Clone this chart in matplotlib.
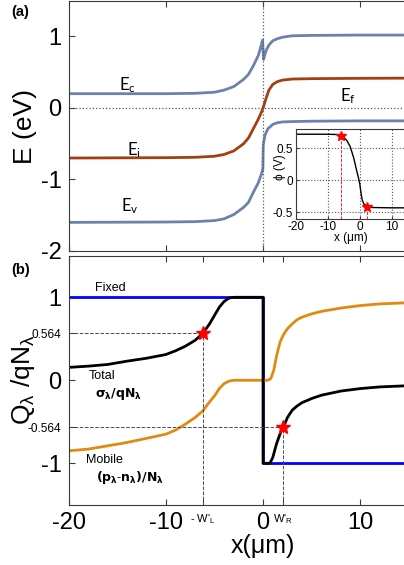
import matplotlib
matplotlib.use('Agg')
from matplotlib import pyplot as plt

plt.rcParams['font.family'] = ['Liberation Sans', 'DejaVu Sans']
plt.rcParams['mathtext.default'] = 'regular'
plt.rcParams['axes.unicode_minus'] = False

# ---- panel (a): band diagram ----
ec_x = [-20, -15, -10, -7, -5, -4, -3, -2, -1.5, -1, -0.5, -0.3, -0.05, 0.05, 0.3, 0.6, 1.0, 1.5, 2, 3, 5, 10, 20]
ec_y = [0.2, 0.2, 0.2, 0.205, 0.22, 0.25, 0.30, 0.40, 0.47, 0.59, 0.73, 0.82, 0.95, 0.68, 0.80, 0.88, 0.94, 0.97, 0.99, 1.01, 1.015, 1.02, 1.02]

ei_x = [-20, -10, -7, -5, -4, -3, -2, -1.5, -1, -0.5, -0.2, 0, 0.3, 0.6, 1.0, 1.5, 2, 3, 5, 10, 20]
ei_y = [-0.70, -0.695, -0.69, -0.675, -0.65, -0.60, -0.50, -0.42, -0.29, -0.16, -0.07, 0.0, 0.13, 0.25, 0.33, 0.37, 0.39, 0.405, 0.41, 0.415, 0.42]

ev_x = [-20, -10, -7, -5, -4, -3, -2, -1.5, -1, -0.5, -0.15, -0.02, 0.02, 0.2, 0.5, 1.0, 1.5, 2, 3, 5, 10, 20]
ev_y = [-1.60, -1.595, -1.59, -1.575, -1.55, -1.49, -1.39, -1.32, -1.18, -1.05, -0.92, -0.85, -0.52, -0.38, -0.29, -0.23, -0.205, -0.195, -0.19, -0.185, -0.18, -0.18]

# inset: potential
phi_x = [-20, -10, -7, -5.8, -5, -4, -3, -2, -1.5, -1, -0.5, 0, 0.4, 0.8, 1.3, 2.4, 4, 10, 20]
phi_y = [0.72, 0.72, 0.715, 0.70, 0.67, 0.62, 0.53, 0.37, 0.27, 0.16, 0.06, -0.05, -0.20, -0.31, -0.37, -0.41, -0.425, -0.43, -0.43]
phi_star_x = [-5.8, 2.4]
phi_star_y = [0.70, -0.41]

# ---- panel (b): charge ----
fixed_x = [-20, 0, 0, 20]
fixed_y = [1, 1, -1, -1]

total_x = [-20, -18, -16, -14, -12, -10, -9, -8, -7, -6.2, -5.5, -5, -4.5, -4, -3.5, -3, 0, 0,
           0.7, 1.0, 1.4, 1.8, 2.1, 2.5, 3, 3.5, 4, 5, 6, 8, 10, 12, 15, 20]
total_y = [0.155, 0.17, 0.19, 0.23, 0.265, 0.31, 0.355, 0.41, 0.48, 0.564, 0.68, 0.78, 0.88, 0.95, 0.99, 1.0, 1.0, -1.0,
           -1.0, -0.93, -0.76, -0.63, -0.564, -0.45, -0.36, -0.31, -0.27, -0.22, -0.18, -0.13, -0.10, -0.08, -0.065, -0.05]

mobile_x = [-20, -18, -16, -14, -12, -10, -9, -8, -7, -6.2, -5.5, -5, -4.5, -4, -3.5, -3, 0.5, 0.8,
            1.1, 1.4, 1.75, 2.1, 2.5, 3, 3.5, 4, 5, 6, 8, 10, 12, 15, 20]
mobile_y = [-0.85, -0.83, -0.79, -0.75, -0.70, -0.65, -0.60, -0.53, -0.45, -0.37, -0.26, -0.19, -0.10, -0.04, -0.01, 0, 0, 0.02,
            0.12, 0.30, 0.46, 0.55, 0.62, 0.68, 0.73, 0.76, 0.80, 0.83, 0.87, 0.90, 0.92, 0.935, 0.95]

wl, ql = -6.2, 0.564
wr, qr = 2.1, -0.564

c_band = '#6b82ad'
c_ei = '#a3400f'
c_mob = '#e08a12'
c_ax = '#3a3a3a'

fig = plt.figure(figsize=(4.04, 5.65), dpi=100)

# ---------------- (a) ----------------
ax = fig.add_axes([0.1696, 0.5558, 0.963, 0.4429])
ax.plot(ec_x, ec_y, color=c_band, lw=2.0)
ax.plot(ei_x, ei_y, color=c_ei, lw=2.0)
ax.plot(ev_x, ev_y, color=c_band, lw=2.0)
ax.axhline(0, color='0.35', ls=':', lw=0.9)
ax.axvline(0, color='0.35', ls=':', lw=0.9)
ax.set_xlim(-20, 20)
ax.set_ylim(-2, 1.5)
ax.set_xticks([-20, -10, 0, 10])
ax.set_xticklabels([])
ax.set_yticks([-2, -1, 0, 1])
ax.tick_params(direction='in', top=True, labelsize=17, length=4, pad=5, color=c_ax)
for s in ax.spines.values():
    s.set_color(c_ax)
ax.set_ylabel('E (eV)', fontsize=19)
ax.yaxis.set_label_coords(-0.081, 0.497)
ax.text(-14.8, 0.25, r'E$_c$', fontsize=12, family='Lato')
ax.text(-14.0, -0.66, r'E$_i$', fontsize=12, family='Lato')
ax.text(-14.6, -1.45, r'E$_v$', fontsize=12, family='Lato')
ax.text(7.9, 0.09, r'E$_f$', fontsize=12, family='Lato')
fig.text(0.028, 0.972, '(a)', fontsize=10.5, fontweight='bold')

# inset
axi = fig.add_axes([0.732, 0.6129, 0.3168, 0.1586])
axi.plot(phi_x, phi_y, color='black', lw=1.0)
for sx, sy in zip(phi_star_x, phi_star_y):
    axi.plot([sx, sx], [-0.6, sy], color='red', ls='--', lw=0.6)
axi.plot(phi_star_x, phi_star_y, '*', color='red', ms=7)
axi.set_xlim(-20, 20)
axi.set_ylim(-0.6, 0.8)
axi.set_xticks([-20, -10, 0, 10])
axi.set_yticks([-0.5, 0, 0.5])
axi.set_yticklabels(['-0.5', '0', '0.5'])
axi.grid(True, ls=':', color='0.35', lw=0.8)
axi.tick_params(direction='in', labelsize=8.5, length=2, pad=2, color=c_ax)
for s in axi.spines.values():
    s.set_color(c_ax)
axi.set_xlabel('x (μm)', fontsize=8.5)
axi.xaxis.set_label_coords(0.43, -0.15)
axi.set_ylabel('ϕ (V)', fontsize=8.5)
axi.yaxis.set_label_coords(-0.076, 0.577)

# ---------------- (b) ----------------
bx = fig.add_axes([0.1696, 0.1066, 0.963, 0.4407])
bx.plot(fixed_x, fixed_y, color='#0000ff', lw=2.0)
bx.plot(mobile_x, mobile_y, color=c_mob, lw=2.0)
bx.plot(total_x, total_y, color='black', lw=2.0)
bx.plot([-20, wl], [ql, ql], ls='--', color='0.3', lw=0.7)
bx.plot([wl, wl], [-1.5, ql], ls='--', color='0.3', lw=0.7)
bx.plot([-20, wr], [qr, qr], ls='--', color='0.3', lw=0.7)
bx.plot([wr, wr], [-1.5, qr], ls='--', color='0.3', lw=0.7)
bx.plot([wl, wr], [ql, qr], '*', color='red', ms=10, zorder=5)
bx.set_xlim(-20, 20)
bx.set_ylim(-1.5, 1.5)
bx.set_xticks([-20, -10, wl, 0, wr, 10])
bx.set_xticklabels(['-20', '-10', "- W'$_L$", '0', "W'$_R$", '10'])
bx.set_yticks([-1, qr, 0, ql, 1])
bx.set_yticklabels(['-1', '-0.564', '0', '0.564', '1'])
bx.tick_params(direction='in', top=True, labelsize=17, length=4, pad=5, color=c_ax)
for lab in bx.get_xticklabels()[2:5:2]:
    lab.set_fontsize(8)
for lab in bx.get_yticklabels()[1:4:2]:
    lab.set_fontsize(8.5)
for s in bx.spines.values():
    s.set_color(c_ax)
bx.set_xlabel('x(μm)', fontsize=18, labelpad=0)
bx.set_ylabel(r'Q$_λ$ /qN$_λ$', fontsize=19)
bx.yaxis.set_label_coords(-0.08, 0.5)

bx.text(-17.3, 1.08, 'Fixed', fontsize=9)
bx.text(-17.95, 0.01, 'Total', fontsize=9)
bx.text(-17.25, -0.2, r'$\mathbf{σ_λ/qN_λ}$', fontsize=9)
bx.text(-18.2, -1.0, 'Mobile', fontsize=9)
bx.text(-17.2, -1.21, r'$\mathbf{(p_λ}$-$\mathbf{n_λ)/N_λ}$', fontsize=9)
fig.text(0.028, 0.515, '(b)', fontsize=10.5, fontweight='bold')

plt.savefig('out.png', dpi=100)
